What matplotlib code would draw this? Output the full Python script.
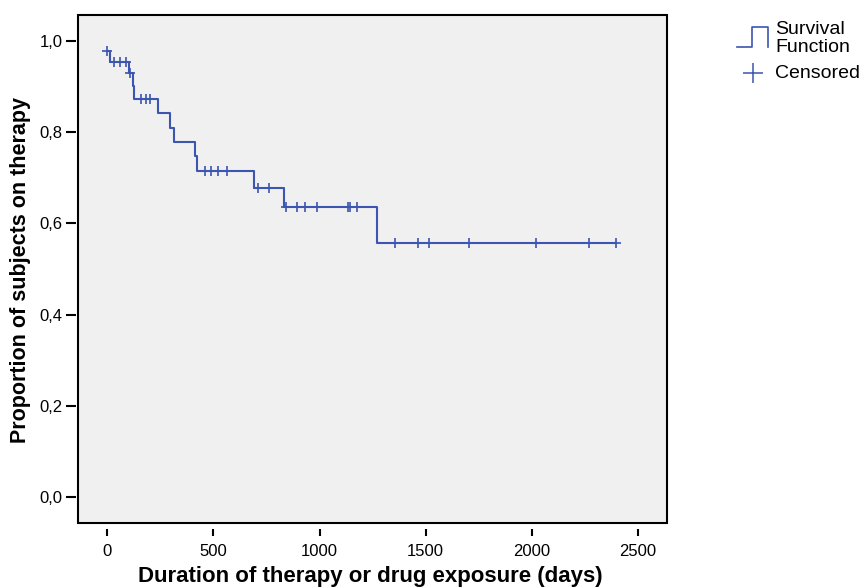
import numpy as np
import matplotlib
matplotlib.use('Agg')
import matplotlib.pyplot as plt
from matplotlib.lines import Line2D
from matplotlib.patches import Rectangle
from matplotlib.ticker import FuncFormatter

plt.rcParams['font.family'] = ['Liberation Sans', 'DejaVu Sans']

# ---- data ----
event_days = [0, 11, 104, 122, 127, 237, 295, 314, 415, 423, 691, 832, 1270]
survival = [0.978, 0.953, 0.929, 0.901, 0.873, 0.841, 0.810, 0.778, 0.747,
            0.716, 0.678, 0.636, 0.556]
censored_days = [0, 32, 58, 87, 107, 159, 182, 203, 460, 487, 523, 564, 711,
                 760, 840, 892, 931, 988, 1135, 1142, 1176, 1357, 1462, 1515,
                 1705, 2020, 2270, 2395]
x_ticks = [0, 500, 1000, 1500, 2000, 2500]
y_ticks = [0.0, 0.2, 0.4, 0.6, 0.8, 1.0]

x_label = "Duration of therapy or drug exposure (days)"
y_label = "Proportion of subjects on therapy"
legend_labels = ["Survival", "Function", "Censored"]

W, H = 866, 588
color = '#3b55b0'

fig = plt.figure(figsize=(W / 100, H / 100), dpi=100)
fig.patch.set_facecolor('white')
ax = fig.add_axes([78 / W, 1 - 523 / H, (667 - 78) / W, (523 - 15) / H])
ax.set_facecolor('#f0f0f0')

# step function
end_day = max(censored_days)
xs = list(event_days) + [end_day]
ys = list(survival) + [survival[-1]]
ax.step(xs, ys, where='post', color=color, lw=1.5, zorder=3)

# censored marks
ev = np.array(event_days)
sv = np.array(survival)
cens_y = [sv[np.searchsorted(ev, c, side='right') - 1] for c in censored_days]
ax.plot(censored_days, cens_y, linestyle='none', marker='+', markersize=7.5,
        markeredgewidth=1.2, color=color, zorder=4)

ax.set_xlim(-138, 2637)
ax.set_ylim(-0.057, 1.057)
ax.set_xticks(x_ticks)
ax.set_yticks(y_ticks)
ax.yaxis.set_major_formatter(FuncFormatter(lambda v, p: f"{v:.1f}".replace('.', ',')))

for s in ax.spines.values():
    s.set_visible(False)
ax.spines['bottom'].set_position(('outward', 4))
ax.spines['left'].set_position(('outward', 1.5))
ax.add_patch(Rectangle((0, 0), 1, 1, transform=ax.transAxes, fill=False,
                       edgecolor='black', lw=1.5, clip_on=False, zorder=5))

ax.tick_params(axis='x', direction='out', length=5, width=1.5, labelsize=12,
               pad=6, colors='black')
ax.tick_params(axis='y', direction='out', length=7, width=1.5, labelsize=12,
               pad=2.5, colors='black')

# axis titles
fig.text(370 / W, 1 - 582 / H, x_label, ha='center', va='baseline',
         fontsize=16, fontweight='bold')
fig.text(21 / W, 1 - 270 / H, y_label, ha='center', va='center',
         rotation=90, fontsize=15.5, fontweight='bold')

# legend (drawn by hand, outside the axes)
def px(x, y):
    return x / W, 1 - y / H

lx = [737, 752, 752, 768, 768]
ly = [47, 47, 27, 27, 47]
fig.add_artist(Line2D([x / W for x in lx], [1 - y / H for y in ly],
                      transform=fig.transFigure, color=color, lw=1.2))
cx, cy = px(752.5, 72.5)
fig.add_artist(Line2D([cx], [cy], transform=fig.transFigure, marker='+',
                      markersize=15, markeredgewidth=1.1, color=color,
                      linestyle='none'))
for label, yy in zip(legend_labels, [29, 48, 73]):
    tx, ty = px(775, yy)
    fig.text(tx, ty, label, ha='left', va='center', fontsize=14)

fig.savefig('out.png', dpi=100)
